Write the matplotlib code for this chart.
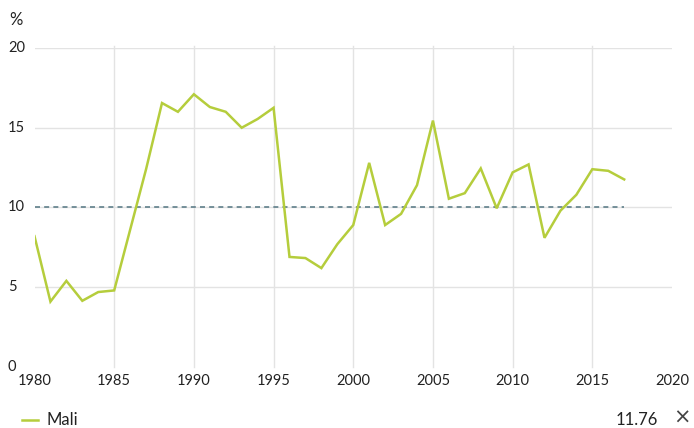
import matplotlib
matplotlib.use("Agg")
import matplotlib.pyplot as plt
import matplotlib.transforms as mtransforms

years = list(range(1980, 2018))
values = [8.2, 4.1, 5.4, 4.15, 4.7, 4.8, 8.6, 12.4, 16.55, 16.0,
          17.1, 16.3, 16.0, 15.0, 15.55, 16.25, 6.9, 6.83, 6.2, 7.7,
          8.9, 12.8, 8.9, 9.6, 11.4, 15.45, 10.55, 10.9, 12.45, 9.95,
          12.2, 12.7, 8.1, 9.8, 10.8, 12.4, 12.3, 11.76]
ref_value = 10
x_ticks = [1980, 1985, 1990, 1995, 2000, 2005, 2010, 2015, 2020]
y_ticks = [0, 5, 10, 15, 20]
series_name = "Mali"
last_label = "11.76"

plt.rcParams['font.family'] = ['Lato', 'DejaVu Sans']

W, H = 694, 428
fig = plt.figure(figsize=(W/100, H/100), dpi=100)
left, right, bottom, top = 34.5, 672, 367, 48
ax = fig.add_axes([left/W, 1-bottom/H, (right-left)/W, (bottom-top)/H])
ax.set_xlim(1980, 2020)
ax.set_ylim(0, 20)
for s in ax.spines.values():
    s.set_visible(False)
ax.set_xticks([])
ax.set_yticks([])

grid_c = '#e3e3e3'
for yv in y_ticks[1:]:
    ax.axhline(yv, color=grid_c, lw=1, zorder=1)
for xv in x_ticks[1:-1]:
    ax.plot([xv, xv], [0, 20.1], color=grid_c, lw=1, zorder=1, clip_on=False)

ax.plot([years[0], years[-1]], [ref_value, ref_value], color='#5f7f8a',
        lw=1.2, ls=(0, (3, 2.5)), zorder=2)
ax.plot(years, values, color='#b5cd3c', lw=1.8, zorder=3, solid_joinstyle='miter')

tc = '#222222'
ytrans = mtransforms.blended_transform_factory(fig.transFigure, ax.transData)
for yv in y_ticks:
    ax.text(8/W, yv, str(yv), transform=ytrans,
            ha='left', va='center', fontsize=10.5, color=tc)
for xv in x_ticks:
    ax.text(xv, -0.022, str(xv), transform=ax.get_xaxis_transform(),
            ha='center', va='top', fontsize=10.5, color=tc)

fig.text(9/W, 1-28/H, '%', fontsize=12, color=tc, ha='left', va='bottom')

# legend
fig.add_artist(plt.Line2D([22/W, 38/W], [1-420/H, 1-420/H], color='#b5cd3c', lw=1.8))
fig.text(47/W, 1-420/H, series_name, fontsize=12, color=tc, ha='left', va='center')
fig.text(658/W, 1-420/H, last_label, fontsize=12, color=tc, ha='right', va='center')
fig.text(682/W, 1-418/H, '×', fontsize=15, color='#444444', ha='center', va='center',
         family=['DejaVu Sans'])

fig.savefig('out.png', dpi=100, facecolor='white')
